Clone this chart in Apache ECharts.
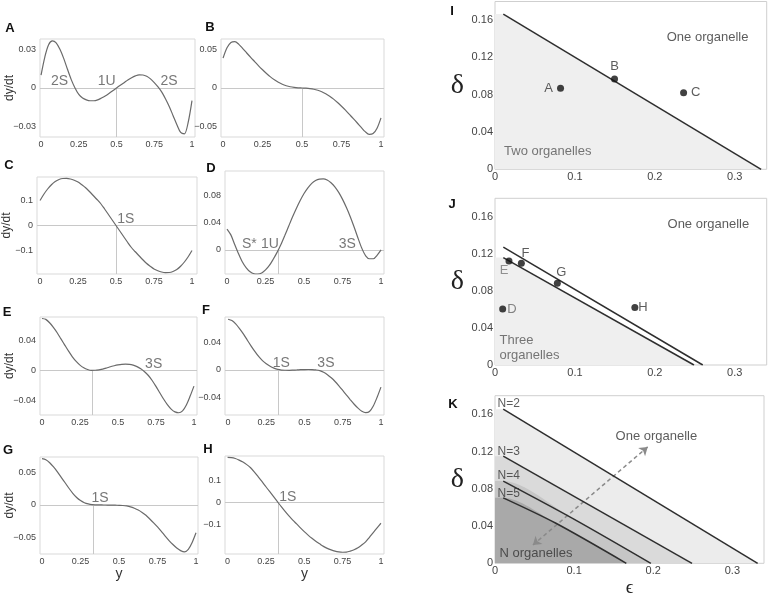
<!DOCTYPE html>
<html><head><meta charset="utf-8"><title>Organelle number bifurcation</title>
<script src="https://cdn.jsdelivr.net/npm/echarts@6.0.0/dist/echarts.min.js"></script>
<style>html,body{margin:0;padding:0;background:#fff;}#chart{width:769px;height:602px;}</style>
</head><body><div id="chart"></div>
<script>
// ---------------- data ----------------
const yValues = [0,0.025,0.05,0.075,0.1,0.125,0.15,0.175,0.2,0.225,0.25,0.275,0.3,0.325,0.35,0.375,0.4,0.425,0.45,0.475,
  0.5,0.525,0.55,0.575,0.6,0.625,0.65,0.675,0.7,0.725,0.75,0.775,0.8,0.825,0.85,0.875,0.9,0.925,0.95,0.975,1];
const rateA = [0.010,0.024,0.0335,0.0365,0.035,0.030,0.023,0.0145,0.0065,0,-0.005,-0.0078,-0.0092,-0.0099,-0.0099,-0.0092,-0.0078,-0.0062,-0.0043,-0.0022,
  0,0.0021,0.0041,0.0062,0.008,0.0094,0.0102,0.0101,0.0091,0.0071,0.0042,0.0008,-0.0032,-0.0085,-0.0145,-0.0215,-0.0285,-0.0345,-0.0355,-0.0265,-0.0098];
const rateB = [0.039,0.0525,0.0595,0.0605,0.057,0.0515,0.0457,0.040,0.0345,0.029,0.0239,0.019,0.0145,0.0107,0.0075,0.0049,0.003,0.0016,0.0007,0.0002,
  0,-0.0002,-0.0007,-0.0016,-0.003,-0.0049,-0.0075,-0.0107,-0.0145,-0.019,-0.0239,-0.029,-0.0345,-0.040,-0.0457,-0.0515,-0.057,-0.0605,-0.0595,-0.0525,-0.039];
const rateC = [0.1,0.125,0.146,0.163,0.176,0.184,0.188,0.1885,0.186,0.181,0.174,0.163,0.151,0.136,0.12,0.104,0.087,0.066,0.044,0.022,
  0,-0.022,-0.044,-0.066,-0.087,-0.104,-0.12,-0.136,-0.151,-0.163,-0.174,-0.181,-0.186,-0.1885,-0.188,-0.184,-0.176,-0.163,-0.146,-0.125,-0.1];
const rateD = [0.0305,0.022,0.008,-0.0055,-0.0175,-0.026,-0.0318,-0.0346,-0.035,-0.0335,-0.029,-0.0225,-0.0135,-0.0035,0.008,0.021,0.0345,0.048,0.0605,0.072,
  0.0822,0.0905,0.097,0.1012,0.1032,0.1035,0.1018,0.0978,0.092,0.0838,0.0737,0.0618,0.0485,0.0335,0.0175,0.0025,-0.0085,-0.0128,-0.0128,-0.0075,0];
const rateE = [0.070,0.0688,0.0643,0.058,0.0508,0.0425,0.0342,0.026,0.0184,0.0122,0.0072,0.0036,0.0013,0.0001,0.0003,0.0009,0.0018,0.0033,0.005,0.0063,
  0.0074,0.0082,0.0085,0.0082,0.0071,0.0052,0.0022,-0.0018,-0.0068,-0.0135,-0.0215,-0.030,-0.0385,-0.046,-0.052,-0.0558,-0.057,-0.0545,-0.0465,-0.0345,-0.0211];
const rateF = [0.0728,0.0709,0.0661,0.0594,0.0517,0.043,0.0345,0.0265,0.0192,0.0132,0.0086,0.005,0.0024,0.0006,-0.0003,-0.0006,-0.0007,-0.0005,-0.0002,0.0002,
  0.0004,0.0005,0.0003,-0.0002,-0.0012,-0.0035,-0.007,-0.0115,-0.0168,-0.023,-0.0297,-0.0365,-0.0431,-0.0495,-0.0551,-0.0595,-0.0615,-0.060,-0.052,-0.0395,-0.0249];
const rateG = [0.0704,0.0689,0.0643,0.0578,0.0503,0.042,0.0337,0.0253,0.0176,0.0112,0.0065,0.0033,0.0014,0.0003,0,-0.0001,-0.0002,-0.0003,-0.0004,-0.0005,
  -0.0007,-0.001,-0.0017,-0.003,-0.0052,-0.008,-0.0116,-0.016,-0.0216,-0.0275,-0.0337,-0.0405,-0.0477,-0.0545,-0.0605,-0.0658,-0.0698,-0.0718,-0.068,-0.0575,-0.0427];
const rateH = [0.2045,0.2035,0.1995,0.1925,0.1835,0.172,0.158,0.1385,0.117,0.095,0.072,0.0495,0.027,0.0045,-0.018,-0.0395,-0.060,-0.079,-0.096,-0.114,
  -0.131,-0.1465,-0.161,-0.1745,-0.186,-0.1975,-0.2065,-0.2135,-0.219,-0.2225,-0.224,-0.2235,-0.219,-0.2125,-0.204,-0.1915,-0.177,-0.1565,-0.135,-0.114,-0.093];
const fixedPoints = [0.5,0.5,0.5,0.333,0.333,0.33,0.333,0.333];   // vertical marker, panels A..H

const yTickLabels = [0,0.25,0.5,0.75,1];
const rateTicksA = [-0.03,0,0.03];
const rateTicksB = [-0.05,0,0.05];
const rateTicksC = [-0.1,0,0.1];
const rateTicksD = [0,0.04,0.08];
const rateTicksE = [-0.04,0,0.04];
const rateTicksF = [-0.04,0,0.04];
const rateTicksG = [-0.05,0,0.05];
const rateTicksH = [-0.1,0,0.1];

const epsTicks = [0,0.1,0.2,0.3];
const deltaTicks = [0,0.04,0.08,0.12,0.16];

// panel I
const iBoundaryEps = [0.0104,0.333];
const iBoundaryDelta = [0.1665,0];
const iPointNames = ['A','B','C'];
const iPointEps = [0.082,0.1496,0.236];
const iPointDelta = [0.087,0.0968,0.0822];
// panel J
const jUpperEps = [0.0104,0.26];
const jUpperDelta = [0.1272,0];
const jLowerEps = [0.0104,0.249];
const jLowerDelta = [0.116,0];
const jPointNames = ['D','E','F','G','H'];
const jPointEps = [0.0096,0.0175,0.033,0.078,0.175];
const jPointDelta = [0.0605,0.1124,0.110,0.0883,0.062];
// panel K
const kNames = ['N=2','N=3','N=4','N=5'];
const kEps = [[0.0104,0.332],[0.0104,0.249],[0.0104,0.098,0.197],[0.0104,0.077,0.166]];
const kDelta = [[0.1655,0],[0.115,0],[0.0883,0.0483,0],[0.0703,0.043,0]];
const kArrowEps = [0.0479,0.193];
const kArrowDelta = [0.0196,0.125];

// ---------------- chart ----------------
const chart = echarts.init(document.getElementById('chart'));
const SANS = '"Liberation Sans", Arial, Helvetica, sans-serif';
const SERIF = '"Liberation Serif", "DejaVu Serif", serif';
const grids = [], xAxes = [], yAxes = [], series = [], graphics = [];
const fmt = v => (v === 0 ? '0' : String(v).replace('-', '\u2212'));
const zip = (a, b) => a.map((v, k) => [v, b[k]]);

function addText(gi, text, x, y, o) {
  o = o || {};
  series.push({
    type: 'scatter', xAxisIndex: gi, yAxisIndex: gi, symbol: 'circle', symbolSize: 1,
    itemStyle: {color: 'rgba(0,0,0,0)'}, silent: true, z: 20,
    data: [{value: [x, y], name: text}],
    label: {show: true, formatter: '{b}', position: o.pos || 'inside', distance: 0,
      color: o.color || '#333', fontSize: o.size || 13, fontFamily: SANS}
  });
}

const leftPanels = [
  {rates: rateA, ticks: rateTicksA, box: [40,39,155,98],  xr: [-0.007,1.02], yr: [-0.038,0.038], yName: true,
   notes: [['2S',0.122,0.0055],['1U',0.435,0.0055],['2S',0.848,0.0055]]},
  {rates: rateB, ticks: rateTicksB, box: [221,39,163,98], xr: [-0.013,1.019], yr: [-0.064,0.064], notes: []},
  {rates: rateC, ticks: rateTicksC, box: [37,177,160,97], xr: [-0.02,1.033], yr: [-0.194,0.194], yName: true,
   notes: [['1S',0.565,0.024]]},
  {rates: rateD, ticks: rateTicksD, box: [225,171,159,103], xr: [-0.013,1.019], yr: [-0.035,0.115],
   notes: [['S*',0.145,0.0085],['1U',0.279,0.0085],['3S',0.781,0.0085]]},
  {rates: rateE, ticks: rateTicksE, box: [40,317,157,98], xr: [-0.013,1.02], yr: [-0.060,0.072], yName: true,
   notes: [['3S',0.735,0.0085]]},
  {rates: rateF, ticks: rateTicksF, box: [225,317,159,98], xr: [-0.02,1.02], yr: [-0.065,0.076],
   notes: [['1S',0.348,0.0096],['3S',0.64,0.0096]]},
  {rates: rateG, ticks: rateTicksG, box: [40,457,158,97], xr: [-0.013,1.013], yr: [-0.075,0.073], yName: true, xName: true,
   notes: [['1S',0.377,0.0102]]},
  {rates: rateH, ticks: rateTicksH, box: [225,456,159,98], xr: [-0.017,1.02], yr: [-0.232,0.211], xName: true,
   notes: [['1S',0.392,0.027]]}
];

leftPanels.forEach((p, i) => {
  const [l, t, w, h] = p.box;
  grids.push({left: l, top: t, width: w, height: h, show: true, borderColor: '#d9d9d9', borderWidth: 1,
    backgroundColor: '#fff', outerBoundsMode: 'none'});
  xAxes.push({gridIndex: i, type: 'value', min: p.xr[0], max: p.xr[1],
    axisLine: {show: false}, axisTick: {show: false}, splitLine: {show: false},
    axisLabel: {customValues: yTickLabels, formatter: fmt, fontSize: 9, color: '#444', margin: 3, fontFamily: SANS},
    name: p.xName ? 'y' : '', nameLocation: 'middle', nameGap: 13, nameMoveOverlap: false,
    nameTextStyle: {fontSize: 14, color: '#333', fontFamily: SANS}});
  yAxes.push({gridIndex: i, type: 'value', min: p.yr[0], max: p.yr[1],
    axisLine: {show: false}, axisTick: {show: false}, splitLine: {show: false},
    axisLabel: {customValues: p.ticks, formatter: fmt, fontSize: 9, color: '#444', margin: 4, fontFamily: SANS},
    name: p.yName ? 'dy/dt' : '', nameLocation: 'middle', nameGap: 24, nameMoveOverlap: false,
    nameTextStyle: {fontSize: 12, color: '#333', fontFamily: SANS}});
  series.push({
    type: 'line', xAxisIndex: i, yAxisIndex: i, data: zip(yValues, p.rates), smooth: 0.3,
    showSymbol: false, lineStyle: {color: '#6a6a6a', width: 1.2}, z: 5,
    markLine: {silent: true, symbol: 'none', label: {show: false}, animation: false,
      lineStyle: {color: '#c8c8c8', width: 1, type: 'solid'},
      data: [{yAxis: 0}, [{coord: [fixedPoints[i], 0]}, {coord: [fixedPoints[i], p.yr[0]]}]]}
  });
  p.notes.forEach(n => addText(i, n[0], n[1], n[2], {size: 14, color: '#555'}));
});

// right panels
const rightBoxes = [[495,1.5,271.7,167.8],[495,198.3,271.7,166.7],[495,395.7,269,167.6]];
rightBoxes.forEach((b, k) => {
  const i = 8 + k;
  grids.push({left: b[0], top: b[1], width: b[2], height: b[3], show: true, borderColor: '#cfcfcf', borderWidth: 1,
    backgroundColor: '#fff', outerBoundsMode: 'none'});
  xAxes.push({gridIndex: i, type: 'value', min: 0, max: 0.34,
    axisLine: {show: false}, axisTick: {show: false}, splitLine: {show: false},
    axisLabel: {customValues: epsTicks, formatter: fmt, fontSize: 11, color: '#444', margin: 2, fontFamily: SANS},
    name: k === 2 ? '\u03F5' : '', nameLocation: 'middle', nameGap: 15, nameMoveOverlap: false,
    nameTextStyle: {fontSize: 19, color: '#222', fontFamily: SERIF}});
  yAxes.push({gridIndex: i, type: 'value', min: 0, max: 0.18,
    axisLine: {show: false}, axisTick: {show: false}, splitLine: {show: false},
    axisLabel: {customValues: deltaTicks, formatter: fmt, fontSize: 11, color: '#444', margin: 2, fontFamily: SANS},
    name: '\u03B4', nameLocation: 'middle', nameRotate: 0, nameGap: 31, nameMoveOverlap: false,
    nameTextStyle: {fontSize: 28, color: '#222', fontFamily: SERIF}});
});

function boundary(gi, eps, delta, fill, smooth) {
  const pts = zip(eps, delta);
  if (fill) {
    series.push({type: 'line', xAxisIndex: gi, yAxisIndex: gi, data: [[0, delta[0]]].concat(pts),
      smooth: smooth || false, showSymbol: false, silent: true, z: 2,
      lineStyle: {width: 0, opacity: 0}, areaStyle: {color: fill, opacity: 1}});
  }
  return {type: 'line', xAxisIndex: gi, yAxisIndex: gi, data: pts, smooth: smooth || false,
    showSymbol: false, z: 6, lineStyle: {color: '#2e2e2e', width: 1.5}};
}

// I
series.push(boundary(8, iBoundaryEps, iBoundaryDelta, '#efefef'));
const iLabelStyle = [{position: 'left', distance: 4}, {position: 'top', distance: 3}, {position: 'right', distance: 4}];
series.push({type: 'scatter', xAxisIndex: 8, yAxisIndex: 8, symbolSize: 7, itemStyle: {color: '#111'}, z: 15,
  data: iPointNames.map((n, k) => ({name: n, value: [iPointEps[k], iPointDelta[k]], label: iLabelStyle[k]})),
  label: {show: true, formatter: '{b}', fontSize: 13, color: '#333', fontFamily: SANS}});
addText(8, 'One organelle', 0.266, 0.141, {color: '#333'});
addText(8, 'Two organelles', 0.066, 0.0189, {color: '#555'});

// J
series.push(boundary(9, jLowerEps, jLowerDelta, '#efefef'));
series.push(boundary(9, jUpperEps, jUpperDelta, null));
const jLabelStyle = [
  {position: 'right', distance: 1, color: '#666'},
  {position: 'bottom', distance: 0, offset: [-5, 0], color: '#777'},
  {position: 'top', distance: 0, offset: [4, 0]},
  {position: 'top', distance: 1, offset: [4, 0]},
  {position: 'right', distance: 0}
];
series.push({type: 'scatter', xAxisIndex: 9, yAxisIndex: 9, symbolSize: 7, itemStyle: {color: '#111'}, z: 15,
  data: jPointNames.map((n, k) => ({name: n, value: [jPointEps[k], jPointDelta[k]], label: jLabelStyle[k]})),
  label: {show: true, formatter: '{b}', fontSize: 13, color: '#333', fontFamily: SANS}});
addText(9, 'One organelle', 0.267, 0.152, {color: '#333'});
addText(9, 'Three', 0.005, 0.027, {color: '#555', pos: 'right'});
addText(9, 'organelles', 0.005, 0.010, {color: '#555', pos: 'right'});

// K
const kFills = ['#ececec', '#dadada', '#c6c6c6', '#a9a9a9'];
kNames.forEach((n, k) => {
  const s = boundary(10, kEps[k], kDelta[k], kFills[k], kEps[k].length > 2 ? 0.3 : false);
  if (k === 3) {
    s.markLine = {silent: true, symbol: ['arrow', 'arrow'], symbolSize: 8, animation: false, label: {show: false},
      lineStyle: {color: '#8a8a8a', width: 1.5, type: [4, 3]},
      data: [[{coord: [kArrowEps[0], kArrowDelta[0]]}, {coord: [kArrowEps[1], kArrowDelta[1]]}]]};
  }
  series.push(s);
});
const kLabelDelta = [0.1716, 0.1204, 0.094, 0.075];
kNames.forEach((n, k) => addText(10, n, 0.0025, kLabelDelta[k], {color: '#333', size: 12, pos: 'right'}));
addText(10, 'One organelle', 0.204, 0.1365, {color: '#333'});
addText(10, 'N organelles', 0.005, 0.0107, {color: '#333', pos: 'right'});

// panel letters
const letters = [['A',10,28],['B',210,27],['C',9,165],['D',211,168],['E',7,312],['F',206,310],
  ['G',8,450],['H',208,449],['I',452,11],['J',452,204],['K',453,404]];
letters.forEach(([t, x, y]) => graphics.push({type: 'text', x: x, y: y, silent: true,
  style: {text: t, font: 'bold 13px ' + SANS, fill: '#111', align: 'center', verticalAlign: 'middle',
    textAlign: 'center', textVerticalAlign: 'middle'}}));

chart.setOption({
  animation: false,
  backgroundColor: '#fff',
  grid: grids, xAxis: xAxes, yAxis: yAxes, series: series, graphic: graphics
});
</script>
</body></html>
